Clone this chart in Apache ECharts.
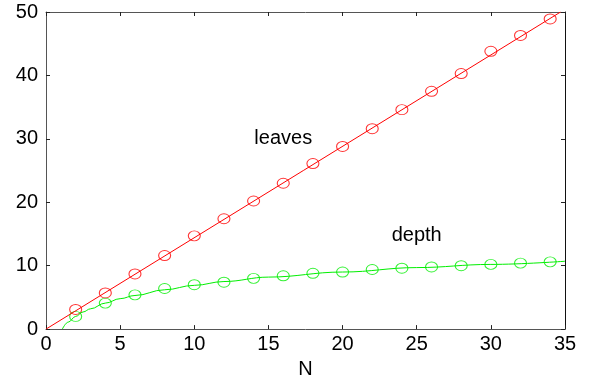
<!DOCTYPE html>
<html>
<head>
<meta charset="utf-8">
<script src="https://cdn.jsdelivr.net/npm/echarts@6/dist/echarts.min.js"></script>
<style>
  html, body { margin: 0; padding: 0; background: #fff; }
  #chart { width: 591px; height: 384px; }
</style>
</head>
<body>
<div id="chart"></div>
<script>
// Tree size versus N: measured points and the fitted curves through them
const xTicks = [0, 5, 10, 15, 20, 25, 30, 35];
const yTicks = [0, 10, 20, 30, 40, 50];

const sampleN = [2, 4, 6, 8, 10, 12, 14, 16, 18, 20, 22, 24, 26, 28, 30, 32, 34];
const leavesValues = [3.1, 5.7, 8.7, 11.6, 14.7, 17.4, 20.2, 23.0, 26.1, 28.8, 31.6, 34.6, 37.5, 40.3, 43.8, 46.3, 48.9];
const depthValues = [2.0, 4.1, 5.4, 6.4, 7.0, 7.4, 8.0, 8.4, 8.8, 9.0, 9.4, 9.6, 9.8, 10.0, 10.2, 10.4, 10.6];

// fitted curves
const leavesFitN = [0, 34.7];
const leavesFit = [0, 50];
const depthFitN = [1.1, 1.5, 2, 2.5, 3, 4, 5, 6, 8, 10, 12, 15, 20, 25, 30, 35];
const depthFit = [0, 1.1, 2.0, 2.7, 3.2, 4.1, 4.8, 5.3, 6.2, 6.9, 7.5, 8.2, 9.0, 9.7, 10.2, 10.7];

const labels = [
  { text: 'leaves', x: 16.0, y: 30.0 },
  { text: 'depth', x: 25.0, y: 14.8 }
];

const FONT = 'Liberation Sans, Arial, sans-serif';
const zip = (xs, ys) => xs.map((x, i) => [x, ys[i]]);

const chart = echarts.init(document.getElementById('chart'), null, { renderer: 'canvas' });

function axisLine(color) {
  return { show: true, onZero: false, lineStyle: { color: color, width: 1 } };
}
function axisTick() {
  return { show: true, inside: true, length: 4, lineStyle: { color: '#222', width: 1 } };
}

function xAxis(position, extra) {
  return Object.assign({
    type: 'value', min: 0, max: 35, interval: 5, position: position,
    splitLine: { show: false }, axisLine: axisLine('#555'), axisTick: axisTick()
  }, extra);
}
function yAxis(position, color, extra) {
  return Object.assign({
    type: 'value', min: 0, max: 50, interval: 10, position: position,
    splitLine: { show: false }, axisLine: axisLine(color), axisTick: axisTick()
  }, extra);
}

chart.setOption({
  animation: false,
  backgroundColor: '#fff',
  grid: { left: 46, top: 12, width: 519, height: 318, containLabel: false },
  xAxis: [
    xAxis('bottom', {
      name: 'N', nameLocation: 'middle', nameGap: 26,
      nameTextStyle: { color: '#000', fontFamily: FONT, fontSize: 20 },
      axisLabel: { color: '#000', fontFamily: FONT, fontSize: 20, margin: 5, customValues: xTicks }
    }),
    xAxis('top', { axisLabel: { show: false } })
  ],
  yAxis: [
    yAxis('left', '#555', {
      axisLabel: { color: '#000', fontFamily: FONT, fontSize: 20, margin: 8, customValues: yTicks }
    }),
    yAxis('right', '#111', { axisLabel: { show: false } })
  ],
  series: [
    {
      type: 'line', data: zip(leavesFitN, leavesFit), showSymbol: false, symbol: 'none',
      lineStyle: { color: '#ff0000', width: 1 }, clip: true, silent: true
    },
    {
      type: 'line', data: zip(depthFitN, depthFit), showSymbol: false, symbol: 'none',
      smooth: 0.4, smoothMonotone: 'x',
      lineStyle: { color: '#00ee00', width: 1 }, clip: true, silent: true
    },
    {
      type: 'scatter', data: zip(sampleN, leavesValues), symbol: 'circle', symbolSize: [12, 10],
      itemStyle: { color: 'rgba(0,0,0,0)', borderColor: '#ff0000', borderWidth: 1 }
    },
    {
      type: 'scatter', data: zip(sampleN, depthValues), symbol: 'circle', symbolSize: [12, 10],
      itemStyle: { color: 'rgba(0,0,0,0)', borderColor: '#00ee00', borderWidth: 1 }
    }
  ]
});

// curve names placed in data coordinates
chart.setOption({
  graphic: labels.map(l => {
    const p = chart.convertToPixel({ xAxisIndex: 0, yAxisIndex: 0 }, [l.x, l.y]);
    return {
      type: 'text', x: p[0], y: p[1],
      style: { text: l.text, fill: '#000', font: '20px ' + FONT, align: 'center', verticalAlign: 'middle' }
    };
  })
});
</script>
</body>
</html>
